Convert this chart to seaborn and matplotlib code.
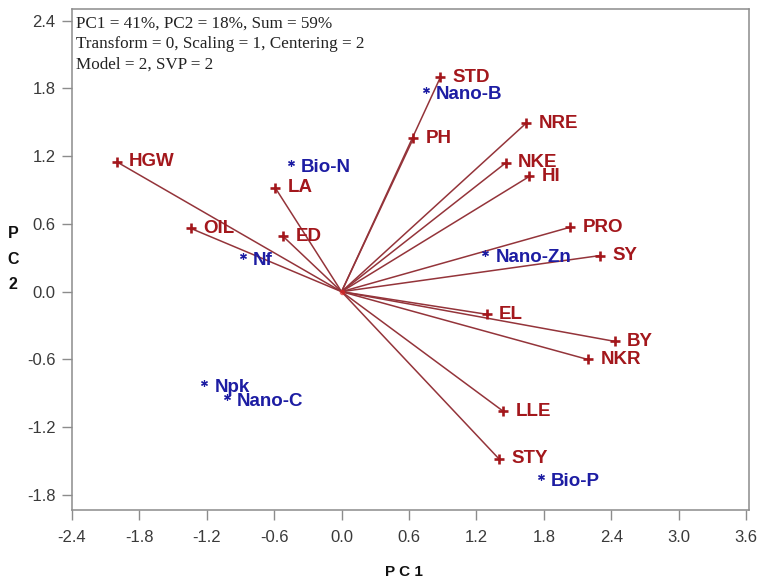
import numpy as np
import pandas as pd
import matplotlib
matplotlib.use("Agg")
import matplotlib.pyplot as plt
import seaborn as sns

# ---- data ----
var_names = ["HGW", "LA", "OIL", "ED", "STD", "PH", "NRE", "NKE", "HI",
             "PRO", "SY", "EL", "BY", "NKR", "LLE", "STY"]
var_pc1 = [-2.00, -0.59, -1.34, -0.52, 0.88, 0.64, 1.64, 1.46, 1.67,
           2.03, 2.30, 1.29, 2.43, 2.19, 1.44, 1.40]
var_pc2 = [1.15, 0.92, 0.56, 0.49, 1.90, 1.36, 1.49, 1.14, 1.02,
           0.57, 0.32, -0.20, -0.44, -0.60, -1.06, -1.48]

trt_names = ["Bio-N", "Nf", "Nano-B", "Nano-Zn", "Npk", "Nano-C", "Bio-P"]
trt_pc1 = [-0.45, -0.88, 0.75, 1.28, -1.22, -1.02, 1.77]
trt_pc2 = [1.14, 0.32, 1.79, 0.34, -0.81, -0.93, -1.64]

x_ticks = [-2.4, -1.8, -1.2, -0.6, 0.0, 0.6, 1.2, 1.8, 2.4, 3.0, 3.6]
y_ticks = [-1.8, -1.2, -0.6, 0.0, 0.6, 1.2, 1.8, 2.4]

info_lines = ["PC1 = 41%, PC2 = 18%, Sum = 59%",
              "Transform = 0, Scaling = 1, Centering = 2",
              "Model = 2, SVP = 2"]

# ---- style ----
sns.set_style("white")
plt.rcParams["font.family"] = ["Liberation Sans", "DejaVu Sans"]

RED_TXT = "#A3171C"
RED_LINE = "#94343A"
BLUE = "#1D1DA3"
SPINE = "#8C8C8C"

df_var = pd.DataFrame({"name": var_names, "PC1": var_pc1, "PC2": var_pc2})
df_trt = pd.DataFrame({"name": trt_names, "PC1": trt_pc1, "PC2": trt_pc2})

fig = plt.figure(figsize=(7.58, 5.82), dpi=100)
ax = fig.add_axes([0.0946, 0.1237, 0.8935, 0.8603])

# vectors from origin
for _, r in df_var.iterrows():
    ax.plot([0, r["PC1"]], [0, r["PC2"]], color=RED_LINE, lw=1.1, zorder=2)
ax.plot([0], [0], "o", color="#E02020", ms=3, alpha=0.6, zorder=2)

sns.scatterplot(data=df_var, x="PC1", y="PC2", marker="+", color=RED_TXT,
                s=55, linewidth=1.9, ax=ax, zorder=3)
sns.scatterplot(data=df_trt, x="PC1", y="PC2", marker=(6, 2, 0), color=BLUE,
                s=18, linewidth=0.9, ax=ax, zorder=3)

for _, r in df_var.iterrows():
    ax.annotate(r["name"], (r["PC1"], r["PC2"]), xytext=(9.0, 0),
                textcoords="offset points", ha="left", va="center",
                fontsize=13.5, fontweight="bold", color=RED_TXT, zorder=4)
for _, r in df_trt.iterrows():
    ax.annotate(r["name"], (r["PC1"], r["PC2"]), xytext=(7.3, -3.3),
                textcoords="offset points", ha="left", va="center",
                fontsize=13.5, fontweight="bold", color=BLUE, zorder=4)

ax.set_xlim(-2.4, 3.624)
ax.set_ylim(-1.933, 2.50)
ax.set_xticks(x_ticks)
ax.set_yticks(y_ticks)
ax.set_xticklabels([f"{v:.1f}" for v in x_ticks])
ax.set_yticklabels([f"{v:.1f}" for v in y_ticks])
ax.tick_params(axis="both", direction="out", length=7.5, width=1.0,
               color=SPINE, labelsize=12, labelcolor="#3a3a3a")
ax.tick_params(axis="x", pad=7)
ax.tick_params(axis="y", pad=4)
ax.xaxis.set_ticks_position("bottom")
ax.yaxis.set_ticks_position("left")
for s in ax.spines.values():
    s.set_visible(True)
    s.set_color(SPINE)
    s.set_linewidth(1.1)

ax.set_xlabel("")
ax.set_ylabel("")

ax.text(0.006, 0.988, "\n".join(info_lines), transform=ax.transAxes,
        ha="left", va="top", fontsize=12.3, family="Liberation Serif",
        color="#222222", linespacing=1.38)

fig.text(404 / 758, 1 - 572 / 582, "P C 1", ha="center", va="center",
         fontsize=11, fontweight="bold", color="#111111")
fig.text(13 / 758, 1 - 259 / 582, "P\nC\n2", ha="center", va="center",
         fontsize=11.5, fontweight="bold", color="#111111", linespacing=1.9)

fig.savefig("out.png", dpi=100)
